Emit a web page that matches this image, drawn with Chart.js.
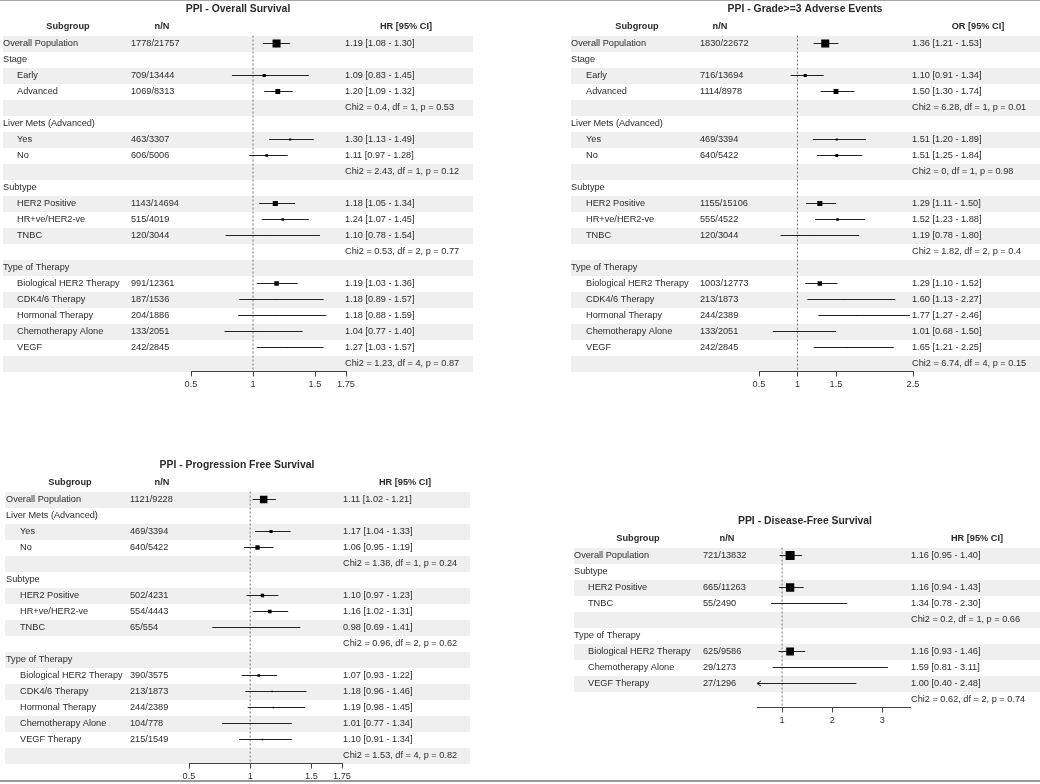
<!DOCTYPE html>
<html>
<head>
<meta charset="utf-8">
<title>PPI forest plots</title>
<script src="https://cdn.jsdelivr.net/npm/chart.js@4.4.0/dist/chart.umd.min.js"></script>
<style>
  html, body { margin: 0; padding: 0; background: #fff; }
  #page { position: relative; width: 1040px; height: 784px; overflow: hidden; }
  #page canvas { position: absolute; }
  .rule { position: absolute; left: 0; width: 1040px; background: #a8a8a8; z-index: 2; }
</style>
</head>
<body>
<div id="page">
  <div class="rule" style="top:0;height:1px"></div>
  <canvas id="osChart" width="520" height="392" style="left:0;top:0"></canvas>
  <canvas id="aeChart" width="520" height="392" style="left:520px;top:0"></canvas>
  <canvas id="pfsChart" width="520" height="392" style="left:0;top:392px"></canvas>
  <canvas id="dfsChart" width="520" height="392" style="left:520px;top:392px"></canvas>
  <div class="rule" style="top:780px;height:2px;background:#999"></div>
</div>
<script>
// ---- Overall Survival ----
const osLabels = ['Overall Population', 'Stage', 'Early', 'Advanced', '', 'Liver Mets (Advanced)', 'Yes', 'No', '',
  'Subtype', 'HER2 Positive', 'HR+ve/HER2-ve', 'TNBC', '', 'Type of Therapy', 'Biological HER2 Therapy',
  'CDK4/6 Therapy', 'Hormonal Therapy', 'Chemotherapy Alone', 'VEGF', '']
const osEvents = [1778, null, 709, 1069, null, null, 463, 606, null, null, 1143, 515, 120, null, null, 991, 187, 204, 133, 242, null]
const osTotals = [21757, null, 13444, 8313, null, null, 3307, 5006, null, null, 14694, 4019, 3044, null, null, 12361, 1536, 1886, 2051, 2845, null]
const osEst = [1.19, null, 1.09, 1.20, null, null, 1.30, 1.11, null, null, 1.18, 1.24, 1.10, null, null, 1.19, 1.18, 1.18, 1.04, 1.27, null]
const osLower = [1.08, null, 0.83, 1.09, null, null, 1.13, 0.97, null, null, 1.05, 1.07, 0.78, null, null, 1.03, 0.89, 0.88, 0.77, 1.03, null]
const osUpper = [1.30, null, 1.45, 1.32, null, null, 1.49, 1.28, null, null, 1.34, 1.45, 1.54, null, null, 1.36, 1.57, 1.59, 1.40, 1.57, null]
const osHetero = [null, null, null, null, 'Chi2 = 0.4, df = 1, p = 0.53', null, null, null, 'Chi2 = 2.43, df = 1, p = 0.12',
  null, null, null, null, 'Chi2 = 0.53, df = 2, p = 0.77', null, null, null, null, null, null, 'Chi2 = 1.23, df = 4, p = 0.87']
const osTicks = [0.5, 1, 1.5, 1.75]
const osRange = [0.5, 1.75]

// ---- Grade>=3 Adverse Events ----
const aeLabels = osLabels
const aeEvents = [1830, null, 716, 1114, null, null, 469, 640, null, null, 1155, 555, 120, null, null, 1003, 213, 244, 133, 242, null]
const aeTotals = [22672, null, 13694, 8978, null, null, 3394, 5422, null, null, 15106, 4522, 3044, null, null, 12773, 1873, 2389, 2051, 2845, null]
const aeEst = [1.36, null, 1.10, 1.50, null, null, 1.51, 1.51, null, null, 1.29, 1.52, 1.19, null, null, 1.29, 1.60, 1.77, 1.01, 1.65, null]
const aeLower = [1.21, null, 0.91, 1.30, null, null, 1.20, 1.25, null, null, 1.11, 1.23, 0.78, null, null, 1.10, 1.13, 1.27, 0.68, 1.21, null]
const aeUpper = [1.53, null, 1.34, 1.74, null, null, 1.89, 1.84, null, null, 1.50, 1.88, 1.80, null, null, 1.52, 2.27, 2.46, 1.50, 2.25, null]
const aeHetero = [null, null, null, null, 'Chi2 = 6.28, df = 1, p = 0.01', null, null, null, 'Chi2 = 0, df = 1, p = 0.98',
  null, null, null, null, 'Chi2 = 1.82, df = 2, p = 0.4', null, null, null, null, null, null, 'Chi2 = 6.74, df = 4, p = 0.15']
const aeTicks = [0.5, 1, 1.5, 2.5]
const aeRange = [0.5, 2.5]

// ---- Progression Free Survival ----
const pfsLabels = ['Overall Population', 'Liver Mets (Advanced)', 'Yes', 'No', '', 'Subtype', 'HER2 Positive', 'HR+ve/HER2-ve',
  'TNBC', '', 'Type of Therapy', 'Biological HER2 Therapy', 'CDK4/6 Therapy', 'Hormonal Therapy', 'Chemotherapy Alone', 'VEGF Therapy', '']
const pfsEvents = [1121, null, 469, 640, null, null, 502, 554, 65, null, null, 390, 213, 244, 104, 215, null]
const pfsTotals = [9228, null, 3394, 5422, null, null, 4231, 4443, 554, null, null, 3575, 1873, 2389, 778, 1549, null]
const pfsEst = [1.11, null, 1.17, 1.06, null, null, 1.10, 1.16, 0.98, null, null, 1.07, 1.18, 1.19, 1.01, 1.10, null]
const pfsLower = [1.02, null, 1.04, 0.95, null, null, 0.97, 1.02, 0.69, null, null, 0.93, 0.96, 0.98, 0.77, 0.91, null]
const pfsUpper = [1.21, null, 1.33, 1.19, null, null, 1.23, 1.31, 1.41, null, null, 1.22, 1.46, 1.45, 1.34, 1.34, null]
const pfsHetero = [null, null, null, null, 'Chi2 = 1.38, df = 1, p = 0.24', null, null, null, null, 'Chi2 = 0.96, df = 2, p = 0.62',
  null, null, null, null, null, null, 'Chi2 = 1.53, df = 4, p = 0.82']
const pfsTicks = [0.5, 1, 1.5, 1.75]
const pfsRange = [0.5, 1.75]

// ---- Disease-Free Survival ----
const dfsLabels = ['Overall Population', 'Subtype', 'HER2 Positive', 'TNBC', '', 'Type of Therapy', 'Biological HER2 Therapy',
  'Chemotherapy Alone', 'VEGF Therapy', '']
const dfsEvents = [721, null, 665, 55, null, null, 625, 29, 27, null]
const dfsTotals = [13832, null, 11263, 2490, null, null, 9586, 1273, 1296, null]
const dfsEst = [1.16, null, 1.16, 1.34, null, null, 1.16, 1.59, 1.00, null]
const dfsLower = [0.95, null, 0.94, 0.78, null, null, 0.93, 0.81, 0.40, null]
const dfsUpper = [1.40, null, 1.43, 2.30, null, null, 1.46, 3.11, 2.48, null]
const dfsHetero = [null, null, null, null, 'Chi2 = 0.2, df = 1, p = 0.66', null, null, null, null, 'Chi2 = 0.62, df = 2, p = 0.74']
const dfsTicks = [1, 2, 3]
const dfsRange = [0.5, 3.55]

const FONT = '"Liberation Sans", Arial, sans-serif'
const TEXT = '#2b2b2b'
const SHADE = '#efefef'

function makeForest(id, title, effHead, labels, events, totals, est, lower, upper, hetero, ticks, range, lay) {
  const n = labels.length
  const rows = labels.map((_, i) => i).filter(i => est[i] != null)
  const ciText = i => `${est[i].toFixed(2)} [${lower[i].toFixed(2)} - ${upper[i].toFixed(2)}]`
  // half pixel nudge so the 1px interval lines land on a pixel row
  const top = lay.top + 0.5

  // box side follows the event count relative to the overall row
  const radii = rows.map(i => (lay.box * events[i] / events[0]) / Math.SQRT2)

  const textPlugin = {
    id: 'forestText',
    beforeDraw(chart) {
      const ctx = chart.ctx
      const y = chart.scales.y
      ctx.save()
      ctx.fillStyle = SHADE
      for (let i = 0; i < n; i += 2) {
        const py = Math.round(y.getPixelForValue(i) - 8)
        ctx.fillRect(lay.shadeL, py, lay.shadeR - lay.shadeL, 16)
      }
      ctx.restore()
    },
    afterDraw(chart) {
      const ctx = chart.ctx
      const y = chart.scales.y
      const x = chart.scales.x
      const t = lay.top
      ctx.save()
      ctx.fillStyle = TEXT
      ctx.textBaseline = 'middle'

      ctx.font = `bold 10.4px ${FONT}`
      ctx.textAlign = 'center'
      ctx.fillText(title, lay.titleX, t - 26)
      ctx.font = `bold 9.2px ${FONT}`
      ctx.fillText('Subgroup', lay.subHead, t - 9)
      ctx.fillText('n/N', lay.nHead, t - 9)
      ctx.fillText(effHead, lay.ciHead, t - 9)

      ctx.font = `9.2px ${FONT}`
      ctx.textAlign = 'left'
      labels.forEach((lab, i) => {
        const py = y.getPixelForValue(i)
        if (lab) ctx.fillText(lab, i > 0 && events[i] != null ? lay.indentX : lay.labelX, py)
        if (events[i] != null) {
          ctx.fillText(`${events[i]}/${totals[i]}`, lay.nX, py)
          ctx.fillText(ciText(i), lay.ciX, py)
        }
        if (hetero[i]) ctx.fillText(hetero[i], lay.ciX, py)
      })

      // arrows where the interval runs past the axis
      ctx.strokeStyle = '#222'
      ctx.lineWidth = 1
      rows.forEach(i => {
        const py = y.getPixelForValue(i)
        if (lower[i] < range[0]) {
          const px = x.getPixelForValue(range[0])
          ctx.beginPath()
          ctx.moveTo(px + 4, py - 2.5)
          ctx.lineTo(px, py)
          ctx.lineTo(px + 4, py + 2.5)
          ctx.stroke()
        }
      })
      ctx.restore()
    }
  }

  return new Chart(document.getElementById(id), {
    type: 'scatter',
    data: {
      datasets: [
        {
          type: 'scatter',
          data: rows.map(i => ({ x: est[i], y: i })),
          pointStyle: 'rect',
          pointRadius: radii,
          backgroundColor: '#000',
          borderWidth: 0,
          order: 1
        },
        {
          type: 'bar',
          indexAxis: 'y',
          data: rows.map(i => ({ x: [lower[i], upper[i]], y: i })),
          barThickness: 1,
          backgroundColor: '#222',
          borderWidth: 0,
          inflateAmount: 0,
          clip: 0,
          order: 2
        },
        {
          type: 'line',
          data: [{ x: 1, y: -0.5 }, { x: 1, y: n - 0.5 }],
          borderColor: '#7a7a7a',
          borderWidth: 1,
          borderDash: [2, 2],
          pointRadius: 0,
          order: 3
        }
      ]
    },
    options: {
      responsive: false,
      animation: false,
      events: [],
      layout: { padding: { left: lay.left, right: 520 - lay.right, top: top, bottom: 392 - 20 - top - n * 16 } },
      plugins: { legend: { display: false }, tooltip: { enabled: false } },
      scales: {
        x: {
          type: 'linear',
          min: range[0],
          max: range[1],
          offset: false,
          beginAtZero: false,
          afterBuildTicks: s => { s.ticks = ticks.map(v => ({ value: v })) },
          afterFit: s => { s.height = 20 },
          ticks: { autoSkip: false, maxRotation: 0, padding: 2, color: '#333', font: { family: FONT, size: 9.2 }, callback: v => String(v) },
          grid: { drawOnChartArea: false, drawTicks: true, tickLength: 5, color: '#444' },
          border: { display: true, color: '#444', width: 1 }
        },
        y: {
          type: 'linear',
          min: -0.5,
          max: n - 0.5,
          reverse: true,
          display: false,
          offset: false,
          grid: { offset: false }
        }
      }
    },
    plugins: [textPlugin]
  })
}

makeForest('osChart', 'PPI - Overall Survival', 'HR [95% CI]',
  osLabels, osEvents, osTotals, osEst, osLower, osUpper, osHetero, osTicks, osRange,
  { top: 35, left: 191, right: 346, labelX: 3, indentX: 17, nX: 131, ciX: 345, subHead: 68, nHead: 162, ciHead: 406, shadeL: 3, shadeR: 473, titleX: 238, box: 8 })

makeForest('aeChart', 'PPI - Grade>=3 Adverse Events', 'OR [95% CI]',
  aeLabels, aeEvents, aeTotals, aeEst, aeLower, aeUpper, aeHetero, aeTicks, aeRange,
  { top: 35, left: 239, right: 393, labelX: 51, indentX: 66, nX: 180, ciX: 392, subHead: 117, nHead: 200, ciHead: 458, shadeL: 51, shadeR: 520, titleX: 285, box: 8 })

makeForest('pfsChart', 'PPI - Progression Free Survival', 'HR [95% CI]',
  pfsLabels, pfsEvents, pfsTotals, pfsEst, pfsLower, pfsUpper, pfsHetero, pfsTicks, pfsRange,
  { top: 99, left: 189, right: 342, labelX: 6, indentX: 20, nX: 130, ciX: 343, subHead: 70, nHead: 162, ciHead: 405, shadeL: 5, shadeR: 470, titleX: 237, box: 7.5 })

makeForest('dfsChart', 'PPI - Disease-Free Survival', 'HR [95% CI]',
  dfsLabels, dfsEvents, dfsTotals, dfsEst, dfsLower, dfsUpper, dfsHetero, dfsTicks, dfsRange,
  { top: 155, left: 237, right: 390, labelX: 54, indentX: 68, nX: 183, ciX: 391, subHead: 118, nHead: 207, ciHead: 457, shadeL: 54, shadeR: 520, titleX: 285, box: 9 })
</script>
</body>
</html>
